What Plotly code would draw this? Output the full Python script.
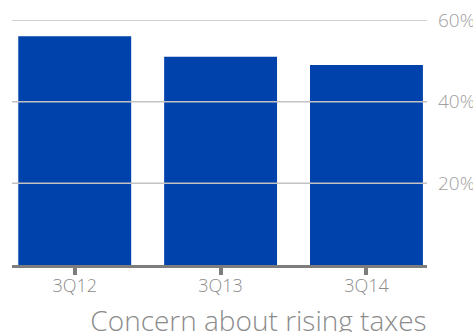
import plotly.graph_objects as go

# Survey results: share of respondents concerned about rising taxes
quarters = ["3Q12", "3Q13", "3Q14"]
concern_pct = [56, 51, 49]
grid_values = [20, 40, 60]
grid_labels = ["20%", "40%", "60%"]

font_family = "'Open Sans', sans-serif"

fig = go.Figure(
    go.Bar(
        x=quarters,
        y=concern_pct,
        marker=dict(color="#0042AB", line=dict(width=0)),
        width=0.774,
        hoverinfo="x+y",
    )
)

# Horizontal guide lines drawn on top of the bars
for v in grid_values:
    fig.add_shape(
        type="line", xref="paper", x0=0, x1=1, yref="y", y0=v, y1=v,
        line=dict(color="#c2c2c2", width=1.5), layer="above",
    )

fig.update_layout(
    width=473,
    height=332,
    margin=dict(l=12, r=46, t=19.5, b=67),
    paper_bgcolor="white",
    plot_bgcolor="white",
    showlegend=False,
    font=dict(family=font_family, color="#8c8c8c", weight=300),
    title=dict(
        text="Concern about rising taxes",
        xref="container", x=0.5465, xanchor="center",
        yref="container", y=0.033, yanchor="middle",
        font=dict(size=28, color="#8c8c8c", family=font_family, weight=300),
    ),
    xaxis=dict(
        range=[-0.43, 2.415],
        showgrid=False,
        showline=True, linecolor="#7d7d7d", linewidth=3,
        ticks="outside", ticklen=7, tickwidth=4, tickcolor="#7d7d7d",
        ticklabelstandoff=-5,
        tickfont=dict(size=18, color="#8c8c8c", family=font_family, weight=300),
        automargin=False,
        fixedrange=True,
    ),
    yaxis=dict(
        range=[0, 60],
        side="right",
        showgrid=False,
        zeroline=False,
        showline=False,
        tickvals=grid_values,
        ticktext=grid_labels,
        ticks="",
        ticklabelstandoff=10,
        tickfont=dict(size=19, color="#a0a0a0", family=font_family, weight=300),
        automargin=False,
        fixedrange=True,
    ),
)

fig.write_html("out.html")
